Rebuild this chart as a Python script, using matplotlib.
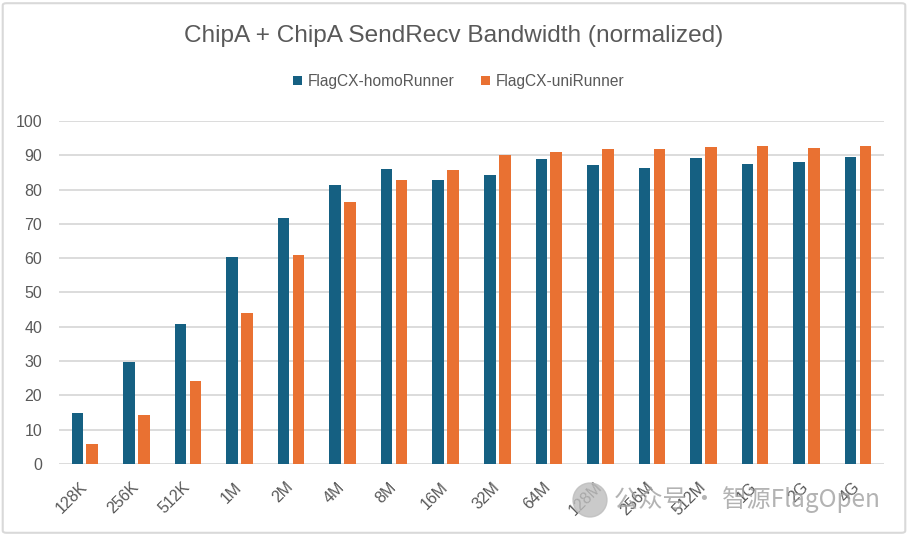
import matplotlib.pyplot as plt
import matplotlib.transforms as mtransforms
import numpy as np
from matplotlib.patches import FancyBboxPatch, Ellipse

# data
sizes = ['128K', '256K', '512K', '1M', '2M', '4M', '8M', '16M',
         '32M', '64M', '128M', '256M', '512M', '1G', '2G', '4G']
homo = [14.9, 29.8, 40.8, 60.3, 71.7, 81.3, 85.9, 82.7,
        84.2, 88.8, 87.1, 86.2, 89.1, 87.4, 88.0, 89.4]
uni = [5.9, 14.4, 24.2, 44.0, 60.9, 76.3, 82.7, 85.6,
       90.0, 90.9, 91.8, 91.8, 92.3, 92.6, 92.0, 92.6]

blue = '#156082'
orange = '#E97132'
grey = '#595959'
plt.rcParams['font.family'] = ['Liberation Sans', 'DejaVu Sans']

fig = plt.figure(figsize=(9.08, 5.36), dpi=100)
ax = fig.add_axes([0.065, 0.1343, 0.9085, 0.64])

x = np.arange(len(sizes))
w = 0.225
ax.bar(x - 0.145, homo, w, color=blue, label='FlagCX-homoRunner', zorder=3)
ax.bar(x + 0.145, uni, w, color=orange, label='FlagCX-uniRunner', zorder=3)

ax.set_xlim(-0.5, len(sizes) - 0.5)
ax.set_ylim(0, 100)
ax.set_yticks(range(0, 101, 10))
ax.grid(axis='y', color='#D9D9D9', lw=1.3, zorder=0)
ax.set_axisbelow(True)
for s in ax.spines.values():
    s.set_visible(False)
ax.tick_params(axis='both', length=0, colors=grey, labelsize=11.5)
ax.tick_params(axis='y', pad=12)
ax.set_xticks(x)
ax.set_xticklabels(sizes, rotation=45, ha='right', va='top')
ax.tick_params(axis='x', pad=11)
shift = mtransforms.ScaledTranslation(5 / 100, 0, fig.dpi_scale_trans)
for lab in ax.get_xticklabels():
    lab.set_transform(lab.get_transform() + shift)

fig.text(0.5, 0.933, 'ChipA + ChipA SendRecv Bandwidth (normalized)',
         ha='center', va='center', fontsize=17.6, color=grey)
fig.legend(loc='center', bbox_to_anchor=(0.505, 0.848), ncol=2, frameon=False,
           handlelength=0.6, handleheight=0.6, handletextpad=0.35,
           columnspacing=1.7, labelcolor=grey, fontsize=11.2)

# outer border of the chart area
fig.patches.append(FancyBboxPatch((0.003, 0.006), 0.994, 0.988,
                                  boxstyle='round,pad=0,rounding_size=0.004',
                                  transform=fig.transFigure, fill=False,
                                  ec='#D9D9D9', lw=1.5))

# watermark
fig.patches.append(Ellipse((590 / 908, 1 - 500 / 536), 34 / 908, 34 / 536,
                           transform=fig.transFigure, color='#BDBDBD', alpha=0.8))
fig.text(614 / 908, 1 - 500 / 536, '公众号 · 智源FlagOpen', ha='left', va='center',
         fontsize=17.5, color='#A0A0A0', alpha=0.8,
         family=['Noto Sans CJK SC', 'DejaVu Sans'])

fig.savefig('out.png', dpi=100)
